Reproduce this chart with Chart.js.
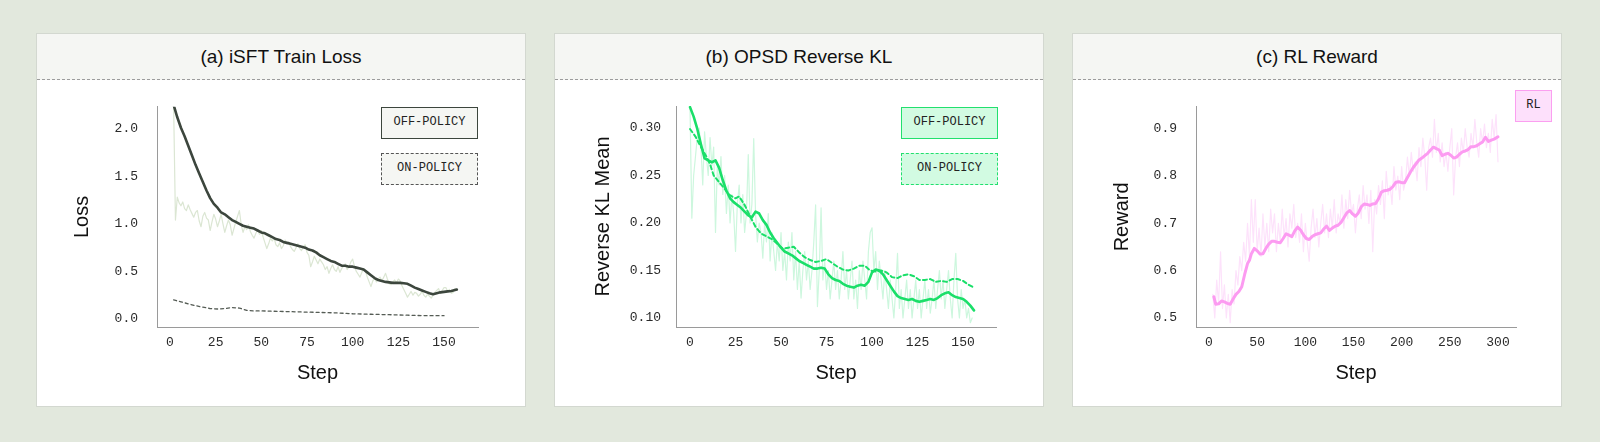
<!DOCTYPE html>
<html>
<head>
<meta charset="utf-8">
<script src="https://cdn.jsdelivr.net/npm/chart.js"></script>
<style>
  body { margin: 0; width: 1600px; height: 442px; background: #e2e8dd; position: relative; overflow: hidden; }
  .panel { position: absolute; top: 33px; width: 490px; height: 374px; box-sizing: border-box;
           background: #fff; border: 1px solid #d3d8d0; }
  .head { height: 46px; text-align: center; background: #f5f6f3;
          border-bottom: 1px dashed #9c9c9c; box-sizing: border-box;
          font: 19px "Liberation Sans", Arial, sans-serif; line-height: 45px; color: #111; }
  .panel canvas { position: absolute; left: 0; top: 46px; }
  .leg { position: absolute; box-sizing: border-box; height: 32px; text-align: center;
         font: 12px "Liberation Mono", monospace; line-height: 29px; color: #222; }
</style>
</head>
<body>

<div class="panel" style="left:36px">
  <div class="head">(a) iSFT Train Loss</div>
  <canvas id="lossChart" width="488" height="326"></canvas>
  <div class="leg" style="left:344px;top:73px;width:97px;background:#f5f6f3;border:1.5px solid #3c463d">OFF-POLICY</div>
  <div class="leg" style="left:344px;top:119px;width:97px;background:#f5f6f3;border:1px dashed #555">ON-POLICY</div>
</div>

<div class="panel" style="left:554px">
  <div class="head">(b) OPSD Reverse KL</div>
  <canvas id="klChart" width="488" height="326"></canvas>
  <div class="leg" style="left:346px;top:73px;width:97px;background:#d2fbe2;border:1.5px solid #22e06e">OFF-POLICY</div>
  <div class="leg" style="left:346px;top:119px;width:97px;background:#d2fbe2;border:1px dashed #22e06e">ON-POLICY</div>
</div>

<div class="panel" style="left:1072px">
  <div class="head">(c) RL Reward</div>
  <canvas id="rewardChart" width="488" height="326"></canvas>
  <div class="leg" style="left:442px;top:56px;width:37px;background:#fde0fb;border:1.5px solid #fb9ff0">RL</div>
</div>

<script>
// ---- (a) iSFT train loss ----
var lossOffSteps = [2,4,6,8,10,12,14,16,18,20,22,24,26,28,30,32,34,36,38,40,42,44,46,48,50,52,54,56,58,60,62,64,66,68,70,72,74,76,78,80,82,84,86,88,90,92,94,96,98,100,102,104,106,108,110,112,114,116,118,120,122,124,126,128,130,132,134,136,138,140,142,144,146,148,150,152,154,157];
var lossOff = [2.25,2.12,2.01,1.92,1.82,1.72,1.62,1.53,1.44,1.35,1.27,1.21,1.17,1.12,1.10,1.07,1.04,1.02,1.00,0.98,0.97,0.96,0.95,0.93,0.91,0.90,0.88,0.86,0.84,0.83,0.81,0.80,0.79,0.78,0.77,0.76,0.75,0.73,0.72,0.70,0.67,0.65,0.63,0.61,0.60,0.58,0.56,0.56,0.55,0.55,0.54,0.53,0.52,0.49,0.46,0.43,0.41,0.40,0.39,0.385,0.38,0.38,0.38,0.375,0.37,0.35,0.33,0.315,0.30,0.285,0.27,0.26,0.27,0.28,0.285,0.29,0.295,0.31];
var lossRawStart = 2;
var lossRaw = [2.24,1.04,1.28,1.22,1.19,1.23,1.16,1.14,1.20,1.15,1.11,1.07,1.12,1.14,1.03,0.97,1.08,1.12,1.06,1.04,
  0.93,1.02,1.10,1.05,0.97,1.03,1.10,1.00,0.91,0.98,1.04,0.99,0.88,0.95,1.02,1.08,1.14,0.99,0.91,0.97,
  0.94,0.99,0.92,0.88,0.85,0.90,0.94,0.89,0.93,0.86,0.80,0.74,0.79,0.85,0.82,0.85,0.78,0.76,0.80,0.74,
  0.77,0.83,0.79,0.81,0.76,0.73,0.71,0.75,0.79,0.74,0.72,0.76,0.78,0.70,0.67,0.55,0.60,0.66,0.62,0.58,
  0.63,0.60,0.57,0.52,0.55,0.48,0.53,0.57,0.52,0.50,0.55,0.49,0.53,0.56,0.58,0.52,0.55,0.60,0.63,0.55,
  0.50,0.47,0.44,0.49,0.53,0.50,0.44,0.39,0.34,0.40,0.43,0.39,0.42,0.44,0.40,0.44,0.48,0.42,0.37,0.36,
  0.39,0.41,0.38,0.42,0.40,0.35,0.31,0.27,0.23,0.26,0.29,0.25,0.28,0.27,0.24,0.26,0.29,0.25,0.23,0.26,
  0.24,0.22,0.25,0.28,0.30,0.32,0.27,0.30,0.33,0.33,0.29,0.31,0.27,0.28,0.32,0.30];
var lossOnSteps = [2,6,10,14,18,22,26,30,34,38,42,46,50,60,70,80,90,100,110,120,130,140,150];
var lossOn = [0.20,0.18,0.16,0.14,0.125,0.11,0.105,0.11,0.12,0.115,0.09,0.085,0.085,0.08,0.075,0.07,0.065,0.055,0.05,0.045,0.04,0.035,0.035];
var lossXTicks = [0,25,50,75,100,125,150];
var lossYTicks = [0.0,0.5,1.0,1.5,2.0];

// ---- (b) OPSD reverse KL ----
var klOffSteps = [0,2,4,6,8,10,12,14,16,18,20,22,24,26,28,30,32,34,36,38,40,42,44,46,48,50,52,54,56,58,60,62,64,66,68,70,72,74,76,78,80,82,84,86,88,90,92,94,96,98,100,102,104,106,108,110,112,114,116,118,120,122,124,126,128,130,132,134,136,138,140,142,144,146,148,150,152,154,156];
var klOff = [0.322,0.312,0.299,0.283,0.268,0.266,0.264,0.266,0.258,0.245,0.234,0.226,0.222,0.219,0.216,0.212,0.208,0.206,0.212,0.210,0.203,0.198,0.190,0.184,0.179,0.174,0.170,0.168,0.166,0.163,0.160,0.158,0.156,0.154,0.152,0.152,0.153,0.152,0.146,0.142,0.140,0.139,0.136,0.134,0.133,0.132,0.134,0.135,0.134,0.138,0.148,0.151,0.150,0.146,0.140,0.134,0.128,0.123,0.121,0.120,0.119,0.120,0.118,0.117,0.118,0.119,0.120,0.119,0.121,0.124,0.126,0.127,0.124,0.122,0.121,0.120,0.117,0.113,0.108];
var klOnSteps = [0,3,6,9,11,13,16,19,22,25,27,30,33,36,39,42,45,48,51,54,57,60,63,66,69,72,75,78,81,84,87,90,93,96,99,102,105,108,111,114,117,120,123,126,129,132,135,138,141,144,147,150,153,156];
var klOn = [0.299,0.291,0.280,0.270,0.262,0.250,0.243,0.236,0.229,0.226,0.228,0.219,0.207,0.196,0.189,0.186,0.183,0.178,0.173,0.174,0.175,0.169,0.164,0.161,0.159,0.160,0.162,0.158,0.154,0.151,0.150,0.152,0.155,0.155,0.150,0.149,0.150,0.148,0.143,0.142,0.145,0.146,0.144,0.140,0.140,0.141,0.138,0.139,0.138,0.141,0.141,0.139,0.135,0.132];
var klRawStart = 0;
var klRaw = [0.32,0.205,0.25,0.27,0.29,0.30,0.28,0.24,0.296,0.27,0.25,0.29,0.26,0.28,0.19,0.26,0.24,0.27,0.23,0.25,
  0.21,0.24,0.20,0.23,0.21,0.17,0.22,0.24,0.20,0.23,0.19,0.21,0.272,0.20,0.22,0.289,0.21,0.18,0.20,0.19,
  0.163,0.20,0.18,0.21,0.16,0.19,0.17,0.15,0.18,0.16,0.19,0.15,0.17,0.14,0.18,0.16,0.19,0.14,0.17,0.13,
  0.16,0.121,0.15,0.17,0.14,0.16,0.13,0.15,0.18,0.219,0.112,0.15,0.216,0.14,0.16,0.13,0.15,0.12,0.14,0.16,
  0.13,0.15,0.12,0.14,0.17,0.13,0.15,0.12,0.14,0.16,0.12,0.14,0.11,0.15,0.13,0.16,0.14,0.12,0.17,0.19,
  0.195,0.15,0.17,0.13,0.16,0.14,0.12,0.15,0.13,0.11,0.14,0.12,0.10,0.13,0.168,0.11,0.13,0.10,0.12,0.14,
  0.11,0.13,0.10,0.12,0.14,0.11,0.13,0.10,0.12,0.14,0.11,0.13,0.105,0.12,0.14,0.11,0.13,0.15,0.12,0.14,
  0.11,0.13,0.15,0.12,0.10,0.14,0.168,0.12,0.10,0.13,0.11,0.12,0.10,0.11,0.095,0.10];
var klXTicks = [0,25,50,75,100,125,150];
var klYTicks = [0.10,0.15,0.20,0.25,0.30];

// ---- (c) RL reward ----
var rlSteps = [5,7,10,13,16,19,22,25,28,31,34,37,40,42,44,47,50,53,56,59,62,65,68,71,74,77,80,83,86,89,92,95,98,101,104,107,110,113,116,119,122,125,128,131,134,137,140,143,146,149,152,155,158,161,164,167,170,173,176,179,182,185,188,191,194,197,200,203,206,209,212,215,218,221,224,227,230,233,236,239,242,245,248,251,254,257,260,263,266,269,272,275,278,281,284,287,290,293,296,300];
var rlSmooth = [0.545,0.529,0.530,0.536,0.534,0.531,0.529,0.540,0.550,0.556,0.566,0.592,0.615,0.622,0.636,0.647,0.642,0.635,0.636,0.647,0.656,0.662,0.662,0.660,0.659,0.668,0.678,0.675,0.672,0.684,0.692,0.686,0.676,0.668,0.666,0.672,0.676,0.678,0.680,0.688,0.694,0.685,0.690,0.694,0.696,0.702,0.712,0.722,0.727,0.720,0.715,0.722,0.735,0.741,0.740,0.738,0.741,0.742,0.752,0.766,0.769,0.770,0.772,0.778,0.787,0.788,0.786,0.786,0.797,0.808,0.818,0.826,0.834,0.838,0.843,0.848,0.855,0.861,0.858,0.855,0.843,0.846,0.848,0.844,0.838,0.840,0.846,0.851,0.853,0.856,0.862,0.862,0.864,0.868,0.872,0.882,0.873,0.876,0.878,0.883];
var rlRawStart = 4, rlRawEvery = 2;
var rlRaw = [0.55,0.50,0.58,0.53,0.64,0.52,0.57,0.50,0.55,0.49,0.56,0.53,0.60,0.57,0.63,0.60,0.66,0.62,0.70,0.63,
  0.75,0.66,0.75,0.64,0.69,0.63,0.72,0.65,0.70,0.64,0.73,0.68,0.72,0.64,0.70,0.66,0.73,0.67,0.71,0.65,
  0.72,0.69,0.74,0.67,0.70,0.66,0.72,0.64,0.70,0.66,0.62,0.69,0.73,0.67,0.71,0.65,0.70,0.74,0.68,0.72,
  0.67,0.73,0.69,0.75,0.68,0.72,0.70,0.76,0.69,0.75,0.71,0.77,0.72,0.74,0.68,0.73,0.76,0.71,0.78,0.73,
  0.76,0.70,0.77,0.64,0.75,0.72,0.78,0.74,0.79,0.71,0.81,0.76,0.78,0.74,0.82,0.77,0.80,0.75,0.82,0.77,
  0.79,0.84,0.80,0.85,0.81,0.83,0.79,0.86,0.82,0.88,0.84,0.77,0.86,0.88,0.84,0.92,0.85,0.89,0.83,0.87,
  0.82,0.85,0.81,0.86,0.90,0.76,0.84,0.87,0.82,0.88,0.85,0.90,0.86,0.84,0.89,0.86,0.92,0.87,0.84,0.90,
  0.87,0.91,0.86,0.89,0.85,0.92,0.88,0.93,0.83];
var rlXTicks = [0,50,100,150,200,250,300];
var rlYTicks = [0.5,0.6,0.7,0.8,0.9];

Chart.defaults.font.family = '"Liberation Mono", monospace';
Chart.defaults.color = '#2a2a2a';

function pairs(steps, vals) { return vals.map(function (v, i) { return {x: steps[i], y: v}; }); }
function run(start, every, vals) { return vals.map(function (v, i) { return {x: start + i * every, y: v}; }); }

function lineChart(id, o) {
  new Chart(document.getElementById(id), {
    type: 'line',
    data: {datasets: o.datasets},
    options: {
      animation: false,
      responsive: false,
      layout: {padding: {left: 0, top: 26, right: o.padRight, bottom: 0}},
      plugins: {legend: {display: false}, tooltip: {enabled: false}},
      elements: {point: {radius: 0}, line: {tension: 0, borderJoinStyle: 'round', borderCapStyle: 'round'}},
      scales: {
        x: {
          type: 'linear', min: o.xMin, max: o.xMax,
          grid: {display: false, drawTicks: false},
          border: {color: '#9a9a9a', width: 1},
          ticks: {padding: 8, font: {size: 13}, maxRotation: 0, autoSkip: false},
          afterBuildTicks: function (s) { s.ticks = o.xTicks.map(function (v) { return {value: v}; }); },
          afterFit: function (s) { s.height = 79; },
          title: {display: true, text: 'Step', color: '#111',
                  font: {family: '"Liberation Sans", Arial, sans-serif', size: 20},
                  padding: {top: 0, bottom: 21}}
        },
        y: {
          min: o.yMin, max: o.yMax,
          grid: {display: false, drawTicks: false},
          border: {color: '#9a9a9a', width: 1},
          ticks: {padding: o.yPad, font: {size: 13}, autoSkip: false,
                  callback: function (v) { return v.toFixed(o.dec); }},
          afterBuildTicks: function (s) { s.ticks = o.yTicks.map(function (v) { return {value: v}; }); },
          afterFit: function (s) { s.width = o.yWidth; },
          title: {display: true, text: o.yTitle, color: '#111',
                  font: {family: '"Liberation Sans", Arial, sans-serif', size: 20},
                  padding: {top: o.yTitlePad, bottom: 0}}
        }
      }
    }
  });
}

lineChart('lossChart', {
  padRight: 47, yWidth: 120, yPad: 19, yTitlePad: 33, dec: 1,
  xMin: -7.1, xMax: 168.6, yMin: -0.084, yMax: 2.23,
  xTicks: lossXTicks, yTicks: lossYTicks, yTitle: 'Loss',
  datasets: [
    {data: pairs(lossOffSteps, lossOff), borderColor: '#3c463d', borderWidth: 2.6, order: 0},
    {data: pairs(lossOnSteps, lossOn), borderColor: '#555c55', borderWidth: 1.3, borderDash: [3, 3], order: 1},
    {data: run(lossRawStart, 1, lossRaw), borderColor: '#dbe6d3', borderWidth: 1.2, order: 2}
  ]
});

lineChart('klChart', {
  padRight: 47, yWidth: 121, yPad: 15, yTitlePad: 36, dec: 2,
  xMin: -7.7, xMax: 168.1, yMin: 0.0905, yMax: 0.3232,
  xTicks: klXTicks, yTicks: klYTicks, yTitle: 'Reverse KL Mean',
  datasets: [
    {data: pairs(klOffSteps, klOff), borderColor: '#1adf69', borderWidth: 2.6, order: 0},
    {data: pairs(klOnSteps, klOn), borderColor: '#1adf69', borderWidth: 2, borderDash: [4, 3], order: 1},
    {data: run(klRawStart, 1, klRaw), borderColor: '#cdf7de', borderWidth: 1.2, order: 2}
  ]
});

lineChart('rewardChart', {
  padRight: 45, yWidth: 123, yPad: 19, yTitlePad: 37, dec: 1,
  xMin: -13.5, xMax: 318.7, yMin: 0.481, yMax: 0.9463,
  xTicks: rlXTicks, yTicks: rlYTicks, yTitle: 'Reward',
  datasets: [
    {data: pairs(rlSteps, rlSmooth), borderColor: '#fc9bf1', borderWidth: 3, order: 0},
    {data: run(rlRawStart, rlRawEvery, rlRaw), borderColor: '#fde2fb', borderWidth: 1.2, order: 2}
  ]
});
</script>
</body>
</html>
